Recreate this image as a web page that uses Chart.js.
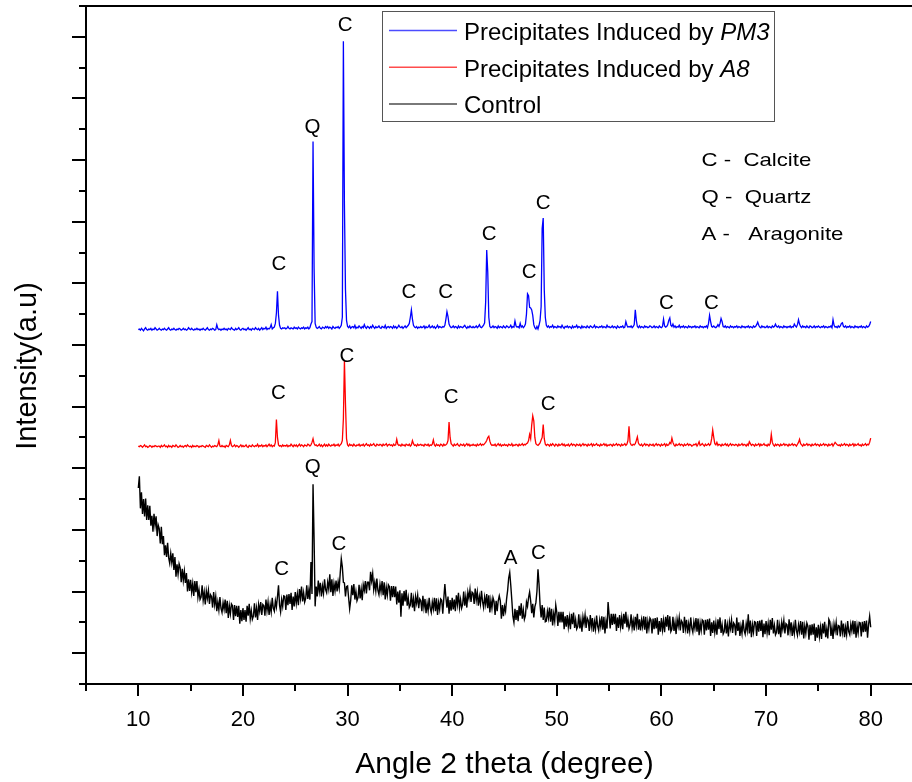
<!DOCTYPE html>
<html><head><meta charset="utf-8">
<script src="https://cdn.jsdelivr.net/npm/chart.js@4.4.1/dist/chart.umd.min.js"></script>
<style>html,body{margin:0;padding:0;background:#fff;overflow:hidden;width:912px;height:782px}canvas{display:block}</style>
</head><body>
<canvas id="c" width="923" height="782"></canvas>
<script>
const ANGLE_START = 10, ANGLE_STEP = 0.1;
const PM3 = [
575,576,574,577,575,573,576,578,575,574,
576,575,577,574,576,575,578,576,574,575,
577,575,574,576,575,577,575,574,576,578,
575,574,576,575,577,575,574,576,575,577,
576,574,575,577,575,576,574,575,578,576,
575,577,575,574,576,575,577,575,576,574,
576,575,577,575,574,576,578,575,574,576,
575,577,576,574,575,583,577,575,576,574,
576,575,577,575,576,574,577,576,575,578,
576,575,574,577,575,576,578,575,574,576,
577,575,576,574,576,578,575,576,574,577,
576,575,578,576,575,577,574,576,578,575,
577,576,579,575,577,576,578,583,576,578,
579,585,602,637,598,582,577,576,578,577,
578,576,577,580,577,576,578,577,576,579,
577,578,576,579,577,576,578,577,579,576,
578,577,579,576,578,584,588,880,675,585,
579,577,578,580,577,576,579,578,577,580,
578,580,577,579,578,576,580,578,577,579,
578,580,577,579,582,595,1043,778,640,590,
580,578,581,577,579,580,578,582,577,579,
578,581,579,577,580,578,583,579,577,580,
579,577,580,578,582,579,577,580,578,579,
581,578,577,580,579,578,582,577,579,580,
578,580,579,577,581,578,580,577,579,582,
579,578,580,577,579,581,578,580,582,585,
595,607,592,582,579,578,580,577,579,578,
580,578,579,581,577,580,578,579,582,578,
579,581,578,580,577,579,582,578,580,579,
578,580,579,582,592,604,596,584,580,578,
579,581,578,580,579,577,581,578,580,579,
578,580,582,579,577,580,578,581,579,578,
580,578,579,581,578,580,583,579,578,580,
582,586,620,704,668,595,580,578,579,581,
578,580,579,577,581,578,580,579,578,581,
579,578,581,580,578,579,582,578,580,579,
589,581,579,580,578,585,579,581,578,580,
584,600,633,630,611,610,607,598,583,578,
576,580,576,582,590,612,739,756,640,595,
582,579,581,578,580,579,582,578,580,579,
578,581,579,580,578,582,579,577,580,579,
581,578,580,579,577,581,578,580,579,582,
578,580,579,577,581,578,580,579,578,581,
579,578,581,580,578,579,582,578,580,579,
578,580,579,581,578,580,579,578,582,579,
580,578,579,581,578,580,579,577,581,579,
578,580,579,581,578,579,588,582,579,580,
579,581,578,580,583,607,590,580,578,581,
578,580,579,578,581,579,580,578,579,581,
580,578,579,581,578,580,579,578,581,579,
578,580,592,581,579,580,583,590,594,582,
580,584,579,581,578,580,579,582,578,580,
579,581,578,580,579,578,581,579,580,578,
580,579,581,578,580,579,578,581,579,580,
578,580,579,581,578,585,598,588,580,579,
581,579,578,580,583,580,585,593,588,580,
579,581,578,580,579,578,581,579,580,578,
580,579,581,578,580,579,578,581,579,580,
578,580,579,581,578,580,579,578,581,579,
580,583,587,582,579,578,581,579,580,578,
579,581,578,580,579,578,581,579,580,584,
580,579,581,578,580,579,578,581,579,580,
578,580,579,581,578,580,579,584,581,579,
583,591,584,580,578,581,579,580,578,581,
579,578,581,580,578,579,581,578,580,579,
581,579,578,580,579,581,578,580,579,578,
580,579,581,578,591,582,579,580,578,581,
579,581,585,586,580,579,581,578,580,579,
581,578,580,579,578,581,579,580,578,580,
579,581,578,580,579,578,581,579,580,583,
588];
const A8 = [
386,385,387,386,384,386,388,385,386,384,
385,387,386,384,386,385,387,386,385,386,
386,384,387,385,386,388,385,386,384,387,
385,386,384,387,386,385,388,386,384,385,
387,385,386,384,386,387,385,388,386,385,
386,384,387,385,386,385,387,386,384,386,
385,387,386,385,384,387,386,385,388,386,
384,386,385,387,386,385,388,395,386,385,
387,385,386,384,387,386,385,388,395,387,
385,386,388,385,387,386,384,386,388,385,
387,385,386,388,385,384,387,386,385,388,
386,385,387,386,389,385,387,386,388,385,
387,386,388,385,387,389,386,388,385,387,
386,392,429,400,388,386,387,385,388,386,
387,386,388,385,387,386,389,387,385,388,
386,388,385,387,389,386,388,387,385,388,
387,386,389,388,386,388,392,398,390,387,
388,386,387,389,386,388,385,387,389,386,
388,386,389,387,386,388,387,389,386,388,
387,389,386,388,390,395,430,525,455,398,
388,386,389,387,388,386,389,387,386,388,
387,389,386,388,387,389,386,388,390,387,
388,386,389,387,388,390,387,386,389,388,
387,389,388,386,389,387,388,390,386,388,
389,387,388,386,389,387,388,397,389,387,
388,386,389,387,388,386,389,388,387,389,
386,388,395,390,387,388,386,389,387,388,
389,387,388,386,389,388,387,389,386,388,
387,389,396,388,386,389,387,388,386,389,
388,386,389,387,388,390,395,425,400,390,
388,386,389,387,388,390,387,386,389,388,
387,389,386,388,390,387,389,386,388,387,
389,387,388,386,389,387,388,390,387,389,
388,390,392,395,400,402,394,389,387,388,
387,389,386,388,390,387,389,386,388,387,
389,387,388,386,389,388,387,390,386,388,
387,389,388,386,389,387,388,390,387,389,
388,390,391,395,405,398,420,435,427,400,
390,388,387,389,391,396,400,421,398,389,
387,389,388,386,389,387,390,388,386,389,
388,386,389,387,388,390,387,389,386,388,
387,389,386,388,390,387,389,388,386,389,
388,387,389,386,388,390,387,389,388,386,
389,387,388,390,386,389,387,388,390,387,
388,386,389,387,388,390,387,389,386,388,
387,389,388,386,389,387,388,390,387,389,
388,386,389,387,388,390,387,389,395,418,
392,388,387,389,388,390,395,401,391,388,
387,389,386,388,390,387,389,388,386,389,
388,387,389,386,388,390,387,389,388,386,
389,387,388,390,386,389,387,388,392,390,
399,392,388,386,389,387,388,390,387,389,
388,386,389,387,388,390,387,389,388,386,
387,389,388,390,386,389,393,387,388,390,
388,386,389,387,388,390,387,389,398,412,
400,390,388,392,387,389,388,386,389,387,
388,390,387,389,386,388,390,387,389,388,
387,389,388,386,389,387,388,390,387,389,
388,386,389,387,393,390,387,389,388,386,
389,387,388,390,386,389,387,388,390,387,
388,386,389,387,390,405,392,388,386,389,
387,389,388,386,389,387,388,390,387,389,
388,386,389,387,388,390,387,389,388,386,
389,392,397,390,388,386,389,387,388,390,
387,389,388,386,389,387,388,390,387,389,
388,386,389,387,388,390,387,389,388,386,
389,387,388,390,386,389,392,390,388,387,
388,386,389,387,388,390,387,389,388,386,
389,387,388,390,386,389,387,388,390,387,
388,386,389,387,388,390,387,389,388,392,
399];
const CONTROL = [
318,337,285,311,276,300,272,301,266,290,
266,289,257,273,247,276,257,272,240,258,
252,228,255,227,240,209,225,206,229,205,
196,212,197,212,185,206,174,194,178,195,
189,165,187,168,183,164,180,150,170,151,
169,149,163,143,167,149,167,141,153,137,
141,160,136,149,129,151,139,152,130,145,
142,124,149,129,142,118,133,120,141,123,
116,132,121,137,115,135,107,127,114,130,
127,104,128,110,127,109,127,98,120,102,
123,104,120,101,127,111,130,106,119,105,
110,131,108,123,104,129,118,133,112,129,
127,111,137,119,133,112,129,117,140,123,
118,135,125,142,160,128,117,137,126,143,
142,120,145,128,146,130,148,120,142,126,
149,131,146,128,154,139,158,134,148,133,
139,160,138,152,137,198,146,324,235,126,
158,142,168,150,164,142,159,147,170,153,
148,165,154,178,149,170,143,163,151,168,
150,166,155,180,203,190,165,164,142,158,
159,140,122,136,160,144,162,137,150,135,
140,161,139,154,136,161,152,167,147,165,
165,152,182,167,179,153,165,151,171,152,
145,162,150,167,144,165,137,157,144,161,
158,135,159,141,159,141,158,129,150,132,
152,109,147,127,151,134,153,127,140,124,
128,148,124,138,118,142,131,144,123,138,
135,118,143,124,138,115,131,119,140,123,
116,133,122,140,118,139,112,132,121,138,
136,114,139,162,140,124,142,114,136,119,
140,121,137,118,144,129,148,124,137,123,
129,150,127,142,124,149,139,153,133,149,
147,130,155,136,149,127,142,130,151,134,
124,141,129,146,123,144,116,136,123,140,
134,112,135,118,135,143,135,106,128,110,
126,118,138,152,172,181,160,136,110,100,
122,104,120,102,127,111,131,106,120,105,
111,133,126,140,149,135,115,130,108,125,
132,150,186,162,128,108,128,104,124,101,
102,118,107,124,101,122,95,114,102,128,
116,94,117,100,117,100,117,89,110,93,
112,93,108,89,114,97,116,91,104,89,
93,113,90,104,85,109,98,112,91,107,
103,86,112,93,107,85,101,89,111,94,
87,104,93,110,88,109,82,102,90,133,
112,90,114,96,114,97,114,86,108,91,
112,93,108,89,114,98,117,92,105,90,
96,113,91,103,87,109,95,114,88,105,
87,104,93,110,88,109,82,102,90,107,
104,82,106,89,107,90,108,80,102,85,
107,88,103,84,109,93,112,87,110,85,
89,109,86,100,81,105,94,108,87,103,
100,83,109,90,104,82,98,86,108,91,
84,101,90,107,85,106,79,99,87,104,
102,80,104,87,105,88,106,78,100,83,
103,84,99,80,105,89,108,83,96,81,
85,105,82,96,77,101,90,104,83,99,
96,79,108,86,100,78,94,82,104,87,
81,98,87,113,82,103,76,96,84,101,
100,78,102,85,103,86,104,76,98,81,
102,83,98,79,104,88,107,82,95,80,
84,104,81,95,76,100,89,103,82,98,
96,79,105,86,100,78,94,82,104,87,
79,96,85,102,80,101,74,94,82,99,
94,72,96,79,97,80,98,70,92,75,
96,77,92,73,98,82,101,76,89,74,
105,101,78,92,73,97,86,100,79,95,
94,77,103,84,98,76,92,80,102,85,
80,97,86,103,81,102,75,95,83,100,
99,77,101,84,102,85,103,75,97,110,
92];

const SERIES_LABELS = [['Precipitates Induced by ', 'PM3'], ['Precipitates Induced by ', 'A8'], ['Control', '']];
const SERIES_COLORS = ['#0000ff', '#ff0000', '#000000'];
const X_MAJOR = [10, 20, 30, 40, 50, 60, 70, 80];
const X_MINOR = [5, 15, 25, 35, 45, 55, 65, 75, 85];
const Y_MAJOR = [50, 150, 250, 350, 450, 550, 650, 750, 850, 950, 1050];
const Y_MINOR = [100, 200, 300, 400, 500, 600, 700, 800, 900, 1000];
const PEAK_TEXT = ['C','Q','C','C','C','C','C','C','C','C', 'C','C','C','C', 'Q','C','C','A','C'];
const PEAK_X = [23.43,26.64,29.78,35.87,39.37,43.53,47.36,48.70,60.47,64.78, 23.40,29.94,39.89,49.18, 26.67,23.69,29.17,45.59,48.25];
const PEAK_Y = [671,894,1060,627,627,720,659,771,609,609, 463,522,456,445, 343,177,218,194,203];
const KEY_LINES = ['C -  Calcite', 'Q -  Quartz', 'A -   Aragonite'];
const X_TITLE = 'Angle 2 theta (degree)';
const Y_TITLE = 'Intensity(a.u)';

const FONT = "'Liberation Sans', Arial, Helvetica, sans-serif";
Chart.defaults.font.family = FONT;
Chart.defaults.color = '#000';

const ANGLES = PM3.map((_, i) => +(ANGLE_START + i * ANGLE_STEP).toFixed(1));
const SERIES = [PM3, A8, CONTROL];

const deco = {
  id: 'deco',
  afterDraw(chart) {
    const { ctx, chartArea: a, scales: { x, y } } = chart;
    ctx.save();
    ctx.strokeStyle = '#000';
    ctx.lineWidth = 2;
    ctx.beginPath();
    const L = Math.round(a.left), B = Math.round(a.bottom), T = Math.round(a.top);
    ctx.moveTo(L, T - 1); ctx.lineTo(L, B + 1);
    ctx.moveTo(L - 7, B); ctx.lineTo(a.right, B);
    ctx.moveTo(L - 7, T); ctx.lineTo(a.right, T);
    X_MAJOR.forEach(v => { const p = Math.round(x.getPixelForValue(v)); ctx.moveTo(p, B); ctx.lineTo(p, B + 12); });
    X_MINOR.forEach(v => { const p = Math.round(x.getPixelForValue(v)); ctx.moveTo(p, B); ctx.lineTo(p, B + 7); });
    Y_MAJOR.forEach(v => { const p = Math.round(y.getPixelForValue(v)); ctx.moveTo(L, p); ctx.lineTo(L - 14, p); });
    Y_MINOR.forEach(v => { const p = Math.round(y.getPixelForValue(v)); ctx.moveTo(L, p); ctx.lineTo(L - 7, p); });
    ctx.stroke();

    ctx.fillStyle = '#000';
    ctx.font = '30px ' + FONT;
    ctx.textAlign = 'center';
    ctx.textBaseline = 'alphabetic';
    ctx.fillText(X_TITLE, (x.getPixelForValue(5) + x.getPixelForValue(85)) / 2, 773);
    ctx.save();
    ctx.translate(36, 366);
    ctx.rotate(-Math.PI / 2);
    ctx.font = '29px ' + FONT;
    ctx.fillText(Y_TITLE, 0, 0);
    ctx.restore();

    ctx.font = '20.5px ' + FONT;
    PEAK_TEXT.forEach((t, i) => ctx.fillText(t, x.getPixelForValue(PEAK_X[i]), y.getPixelForValue(PEAK_Y[i])));

    ctx.textAlign = 'left';
    KEY_LINES.forEach((t, i) => {
      ctx.save();
      ctx.translate(701.5, 166 + i * 37);
      ctx.scale(1.2, 1);
      ctx.font = '18.5px ' + FONT;
      ctx.fillText(t, 0, 0);
      ctx.restore();
    });

    ctx.lineWidth = 1;
    ctx.strokeStyle = '#555';
    ctx.strokeRect(382.5, 11.5, 392, 110);
    SERIES_LABELS.forEach((lab, i) => {
      const ly = 30.5 + i * 36.8;
      ctx.globalAlpha = 0.7;
      ctx.strokeStyle = SERIES_COLORS[i];
      ctx.lineWidth = 1.5;
      ctx.beginPath(); ctx.moveTo(389, ly); ctx.lineTo(457, ly); ctx.stroke();
      ctx.globalAlpha = 1;
      const by = 40 + i * 36.6;
      ctx.font = '24px ' + FONT;
      ctx.fillText(lab[0], 464, by);
      const w = ctx.measureText(lab[0]).width;
      if (lab[1]) { ctx.font = 'italic 24px ' + FONT; ctx.fillText(lab[1], 464 + w, by); }
    });
    ctx.restore();
  }
};

new Chart(document.getElementById('c'), {
  type: 'line',
  data: {
    datasets: SERIES.map((vals, i) => ({
      label: SERIES_LABELS[i].join(''),
      data: vals.map((v, j) => ({ x: ANGLES[j], y: v })),
      borderColor: SERIES_COLORS[i],
      borderWidth: i === 2 ? 1.4 : 1.3,
      pointRadius: 0,
      fill: false,
      tension: 0
    }))
  },
  options: {
    responsive: false,
    animation: false,
    devicePixelRatio: 1,
    layout: { padding: { top: 6, right: 0, left: 0, bottom: 0 } },
    plugins: { legend: { display: false }, tooltip: { enabled: false } },
    scales: {
      x: {
        type: 'linear', min: 5, max: 85,
        afterBuildTicks: s => { s.ticks = X_MAJOR.map(v => ({ value: v })); },
        afterFit: s => { s.height = 98; },
        grid: { display: false, drawOnChartArea: false, drawTicks: false },
        border: { display: false },
        ticks: { padding: 22.5, color: '#000', font: { size: 22 }, maxRotation: 0, autoSkip: false }
      },
      y: {
        min: 0, max: 1100,
        afterFit: s => { s.width = 86; },
        grid: { display: false, drawTicks: false },
        border: { display: false },
        ticks: { display: false }
      }
    }
  },
  plugins: [deco]
});
</script>
</body></html>
